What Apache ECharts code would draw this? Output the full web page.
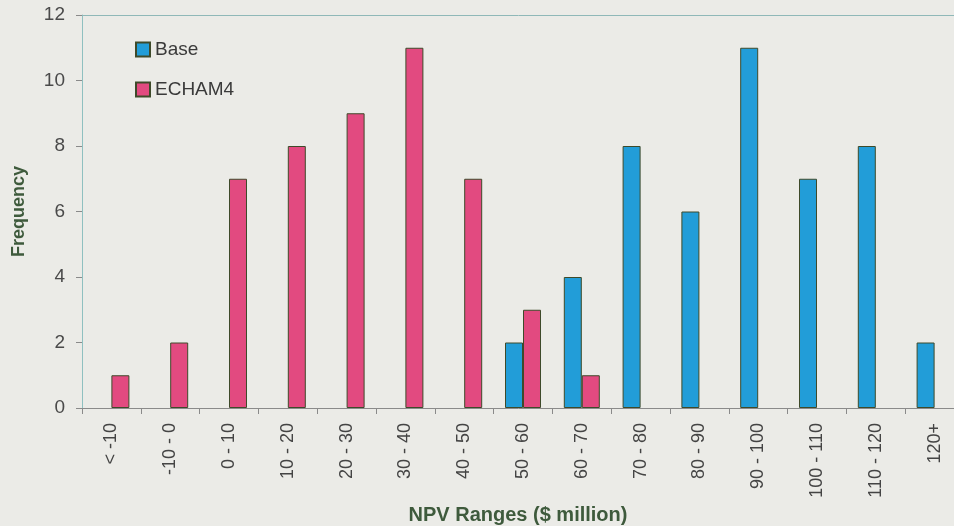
<!DOCTYPE html>
<html><head><meta charset="utf-8">
<script src="https://cdn.jsdelivr.net/npm/echarts@6/dist/echarts.min.js"></script>
<style>html,body{margin:0;padding:0;background:#ebebe7;}#c{width:954px;height:526px;}</style>
</head><body><div id="c"></div>
<script>
const categories = ['< -10','-10 - 0','0 - 10','10 - 20','20 - 30','30 - 40','40 - 50','50 - 60','60 - 70','70 - 80','80 - 90','90 - 100','100 - 110','110 - 120','120+'];
const baseValues = [0,0,0,0,0,0,0,2,4,8,6,11,7,8,2];
const echamValues = [1,2,7,8,9,11,7,3,1,0,0,0,0,0,0];
const yTicks = {min:0, max:12, interval:2};

const hideZero = arr => arr.map(v => v === 0 ? '-' : v);
const chart = echarts.init(document.getElementById('c'));
const font = 'Liberation Sans, Arial, sans-serif';
chart.setOption({
  backgroundColor:'#ebebe7',
  animation:false,
  grid:{left:82, top:15, width:882, height:393, containLabel:false, outerBoundsMode:'none', show:false},
  legend:{
    orient:'vertical', left:130, top:35, itemWidth:14, itemHeight:14, itemGap:21,
    textStyle:{fontFamily:font, fontSize:19, color:'#3a3a3a'},
    icon:'rect',
    data:[{name:'Base'},{name:'ECHAM4'}]
  },
  xAxis:{
    type:'category', data:categories, boundaryGap:true,
    name:'NPV Ranges ($ million)', nameLocation:'middle', nameGap:91,
    nameTextStyle:{fontFamily:font, fontSize:20, fontWeight:'bold', color:'#3e5a3c', padding:[0,10,0,0]},
    axisLine:{lineStyle:{color:'#8a8a8a', width:1}},
    axisTick:{show:true, alignWithLabel:false, length:6, lineStyle:{color:'#8a8a8a'}},
    axisLabel:{rotate:90, margin:15, fontFamily:font, fontSize:18, color:'#444', interval:0}
  },
  yAxis:{
    type:'value', min:yTicks.min, max:yTicks.max, interval:yTicks.interval,
    name:'Frequency', nameLocation:'middle', nameGap:54, nameRotate:90,
    nameTextStyle:{fontFamily:font, fontSize:18, fontWeight:'bold', color:'#3e5a3c'},
    axisLine:{show:true, lineStyle:{color:'#8fc0c0', width:1}},
    axisTick:{show:true, length:6, lineStyle:{color:'#8a8a8a'}},
    axisLabel:{fontFamily:font, fontSize:19, color:'#4a4a4a', margin:17},
    splitLine:{show:false}
  },
  series:[
    {name:'Base', type:'bar', data:hideZero(baseValues), barWidth:18, barGap:'0%',
     itemStyle:{color:'#229dd8', borderColor:'#3e4a2a', borderWidth:1}},
    {name:'ECHAM4', type:'bar', data:hideZero(echamValues), barWidth:18, barGap:'0%',
     itemStyle:{color:'#e24a80', borderColor:'#3e4a2a', borderWidth:1},
     markLine:{silent:true, symbol:'none', label:{show:false},
       lineStyle:{color:'#8fb8b8', width:1, type:'solid'},
       data:[{yAxis:12}]}}
  ]
});
</script></body></html>
